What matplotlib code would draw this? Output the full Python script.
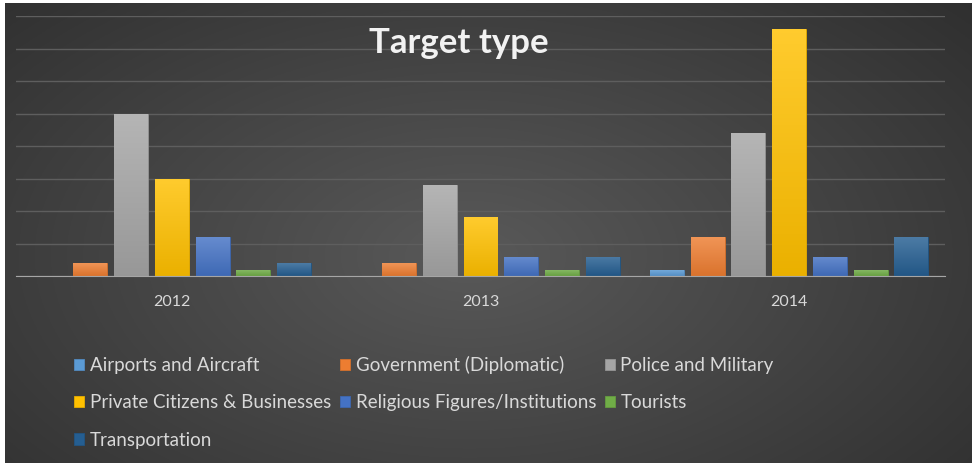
import numpy as np
import matplotlib.pyplot as plt
import matplotlib.colors as mcolors

plt.rcParams['font.family'] = ['Lato', 'DejaVu Sans']

# data
years = ['2012', '2013', '2014']
categories = ['Airports and Aircraft', 'Government (Diplomatic)', 'Police and Military',
              'Private Citizens & Businesses', 'Religious Figures/Institutions',
              'Tourists', 'Transportation']
airports = [0, 0, 1]
government = [2, 2, 6]
police = [25, 14, 22]
private = [15, 9, 38]
religious = [6, 3, 3]
tourists = [1, 1, 1]
transportation = [2, 3, 6]
series = [airports, government, police, private, religious, tourists, transportation]

colors = ['#5B9BD5', '#ED7D31', '#A5A5A5', '#FFC000', '#4472C4', '#70AD47', '#255E91']


def shade(c, f):
    r, g, b = mcolors.to_rgb(c)
    if f > 0:
        return (r + (1 - r) * f, g + (1 - g) * f, b + (1 - b) * f)
    return (r * (1 + f), g * (1 + f), b * (1 + f))


fig = plt.figure(figsize=(9.72, 4.63), dpi=100, facecolor='white')

##########################################################################
# dark background with a soft radial light
##########################################################################
bg = fig.add_axes([5 / 972, 0, 1 - 5 / 972, 1 - 3 / 463])
yy, xx = np.mgrid[0:1:300j, 0:1:600j]
r = np.sqrt(((xx - 0.48) / 0.75) ** 2 + ((yy - 0.45) / 0.9) ** 2)
light = np.clip(1 - r, 0, 1)
c0 = np.array(mcolors.to_rgb('#2c2c2c'))
c1 = np.array(mcolors.to_rgb('#595959'))
img = c0 + (c1 - c0) * light[..., None]
bg.imshow(img, extent=[0, 1, 0, 1], aspect='auto', origin='lower')
bg.set_axis_off()

##########################################################################
# bars
##########################################################################
ax = fig.add_axes([16 / 972, 1 - 276 / 463, 929 / 972, 260 / 463])
ax.set_facecolor('none')
x = np.arange(len(years))
slot = 0.132
width = 0.11
handles = []
for i, (vals, col, name) in enumerate(zip(series, colors, categories)):
    bars = ax.bar(x + (i - 3) * slot, vals, width, color=col, label=name, zorder=3,
                  edgecolor=shade(col, -0.1), linewidth=0.6)
    handles.append(bars)
    grad = np.linspace(0, 1, 64)[:, None]
    top = np.array(shade(col, 0.18))
    bot = np.array(shade(col, -0.08))
    cimg = bot + (top - bot) * grad[..., None]
    for p in bars.patches:
        if p.get_height() <= 0:
            continue
        x0, y0 = p.get_x(), p.get_y()
        im = ax.imshow(cimg, extent=[x0, x0 + p.get_width(), y0, y0 + p.get_height()],
                       aspect='auto', origin='lower', zorder=4)
        im.set_clip_path(p)

ax.set_xlim(-0.505, 2.505)
ax.set_ylim(0, 40)
ax.set_yticks(np.arange(0, 41, 5))
ax.set_yticklabels([])
ax.tick_params(axis='y', length=0)
ax.grid(axis='y', color='#5e5e5e', linewidth=1, zorder=0)
ax.set_xticks(x)
ax.set_xticklabels(years, color='#d9d9d9', fontsize=11.5)
ax.tick_params(axis='x', length=0, pad=14)
for s in ['top', 'left', 'right']:
    ax.spines[s].set_visible(False)
ax.spines['bottom'].set_color('#a6a6a6')
ax.spines['bottom'].set_zorder(5)

##########################################################################
# title and legend
##########################################################################
fig.text(459 / 972, 1 - 43 / 463, 'Target type', ha='center', va='center',
         fontsize=25, fontweight='bold', color='#f2f2f2')

order = [0, 3, 6, 1, 4, 2, 5]
leg = fig.legend([handles[k] for k in order], [categories[k] for k in order],
                 ncol=3, loc='upper left', bbox_to_anchor=(74 / 972, 1 - 356 / 463),
                 frameon=False, fontsize=13.5, labelcolor='#d9d9d9',
                 handlelength=0.55, handleheight=0.55, handletextpad=0.3,
                 columnspacing=0.45, labelspacing=1.08, borderaxespad=0, borderpad=0)

plt.savefig('out.png', dpi=100, facecolor=fig.get_facecolor())
